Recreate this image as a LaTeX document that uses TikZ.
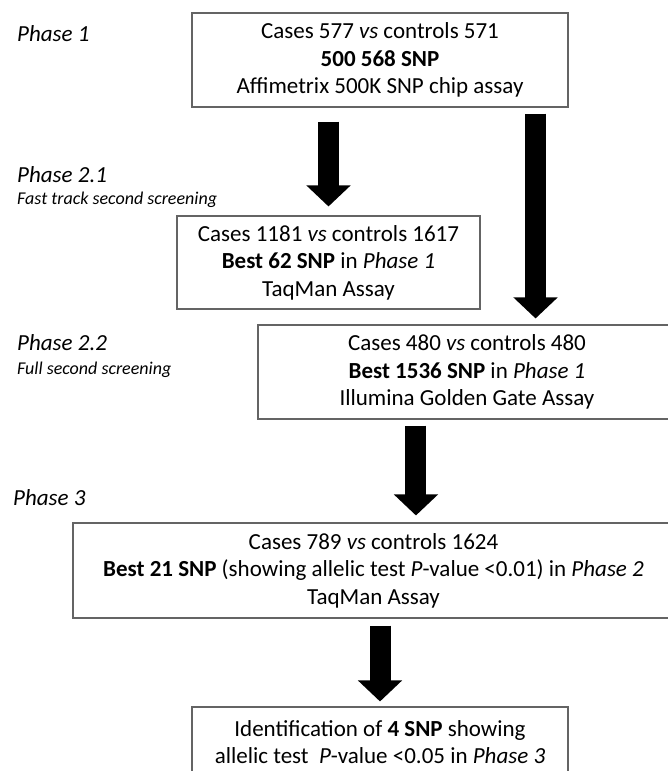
\documentclass[tikz,border=0pt]{standalone}
\usepackage{fontspec}
\setmainfont{Carlito}
\usetikzlibrary{arrows.meta}
\definecolor{boxgray}{RGB}{100,100,100}
\begin{document}
\begin{tikzpicture}[x=1pt,y=-1pt,
  box/.style={draw=boxgray, line width=1.1pt, align=center, inner sep=0pt,
    font=\fontsize{23}{27.5}\selectfont},
  phase/.style={anchor=base west, inner sep=0pt, font=\fontsize{23}{27.5}\selectfont\itshape},
  sublabel/.style={anchor=base west, inner sep=0pt, font=\fontsize{18}{21}\selectfont\itshape},
  bigarrow/.style={line width=21pt, -{Triangle[width=43pt,length=21pt]}}]
\useasboundingbox (0,0) rectangle (668,771);
\clip (0,0) rectangle (668,771);
\fill[white] (0,0) rectangle (668,771);

% phase labels
\node[phase] (p1) at (17,41) {Phase 1};
\node[phase] (p21) at (17,182) {Phase 2.1};
\node[sublabel] (s21) at (17,204) {Fast track second screening};
\node[phase] (p22) at (17,350) {Phase 2.2};
\node[sublabel] (s22) at (17,374) {Full second screening};
\node[phase] (p3) at (13,505) {Phase 3};

% boxes
\node[box, minimum width=376pt, minimum height=94pt] (b1) at (380,60)
  {Cases 577 \textit{vs} controls 571\\ \textbf{500 568 SNP}\\ Affimetrix 500K SNP chip assay};
\node[box, minimum width=303pt, minimum height=93pt] (b2) at (328.5,262.5)
  {Cases 1181 \textit{vs} controls 1617\\ \textbf{Best 62 SNP} in \textit{Phase 1}\\ TaqMan Assay};
\node[box, minimum width=418pt, minimum height=94pt] (b3) at (467,372)
  {Cases 480 \textit{vs} controls 480\\ \textbf{Best 1536 SNP} in \textit{Phase 1}\\ Illumina Golden Gate Assay};
\node[box, minimum width=601pt, minimum height=95pt] (b4) at (373.5,570.5)
  {Cases 789 \textit{vs} controls 1624\\ \textbf{Best 21 SNP} (showing allelic test \textit{P}-value <0.01) in \textit{Phase 2}\\ TaqMan Assay};
\node[box, minimum width=376pt, minimum height=70pt] (b5) at (380,742)
  {Identification of \textbf{4 SNP} showing\\ allelic test\ \ \textit{P}-value <0.05 in \textit{Phase 3}};

% arrows
\draw[bigarrow, shorten <=14pt, shorten >=9pt] (b2.north |- b1.south) -- (b2.north);
\coordinate (r1) at ([xshift=-33pt]b1.south east);
\draw[bigarrow, shorten <=6pt, shorten >=6pt] (r1) -- (r1 |- b3.north);
\coordinate (r3) at ([xshift=158.5pt]b3.south west);
\draw[bigarrow, shorten <=6pt, shorten >=7pt] (r3) -- (r3 |- b4.north);
\draw[bigarrow, shorten <=7pt, shorten >=5pt] (b5.north |- b4.south) -- (b5.north);
\end{tikzpicture}
\end{document}
